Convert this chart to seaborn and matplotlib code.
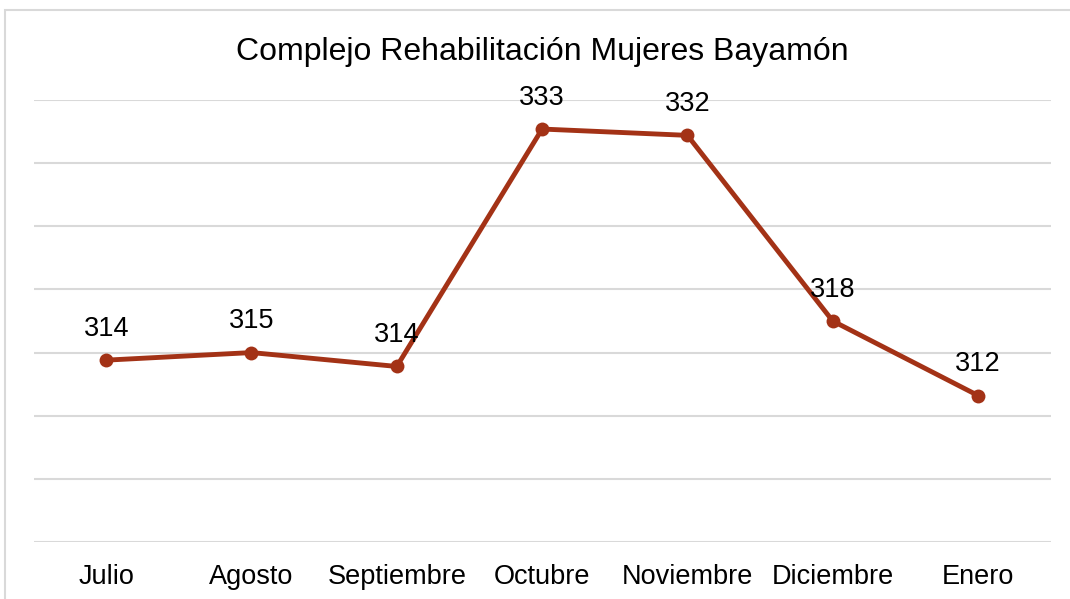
import matplotlib
matplotlib.use("Agg")
import matplotlib.pyplot as plt
import seaborn as sns
import pandas as pd
from matplotlib.patches import Rectangle

months = ["Julio", "Agosto", "Septiembre", "Octubre", "Noviembre", "Diciembre", "Enero"]
values = [314.4, 315.0, 313.9, 332.7, 332.2, 317.5, 311.6]
title = "Complejo Rehabilitación Mujeres Bayamón"

sns.set_theme(style="white")
plt.rcParams['font.family'] = ['Liberation Sans', 'DejaVu Sans']

W, H = 1070, 599
fig = plt.figure(figsize=(W / 100, H / 100), dpi=100)
ax = fig.add_axes([33.5 / W, (H - 542) / H, (1050.7 - 33.5) / W, (542 - 100) / H])

df = pd.DataFrame({"month": months, "value": values})
color = "#A33216"
sns.lineplot(data=df, x="month", y="value", sort=False, ax=ax, color=color,
             linewidth=3.5, marker="o", markersize=10, markeredgewidth=0)

ax.set_xlim(-0.5, len(months) - 0.5)
ax.set_ylim(300, 335)
ax.set_yticks(range(300, 336, 5))
ax.set_yticklabels([])
ax.tick_params(axis="y", length=0)
ax.tick_params(axis="x", length=0, labelsize=19.5, pad=16, colors="black")
ax.yaxis.grid(True, color="#D9D9D9", linewidth=1.5)
ax.set_axisbelow(True)
for s in ax.spines.values():
    s.set_visible(False)
ax.set_xlabel("")
ax.set_ylabel("")

for i, v in enumerate(values):
    ax.annotate(f"{round(v)}", (i, v), xytext=(0, 22.5), textcoords="offset points",
                ha="center", va="center", fontsize=19.5, color="black")

fig.text(542 / W, (H - 52) / H, title, ha="center", va="center", fontsize=23, color="black")

fig.patches.append(Rectangle((5 / W, -0.1), 1.2, (H - 10) / H + 0.1, transform=fig.transFigure,
                             fill=False, edgecolor="#D9D9D9", linewidth=1.5))

fig.savefig("out.png", dpi=100)
